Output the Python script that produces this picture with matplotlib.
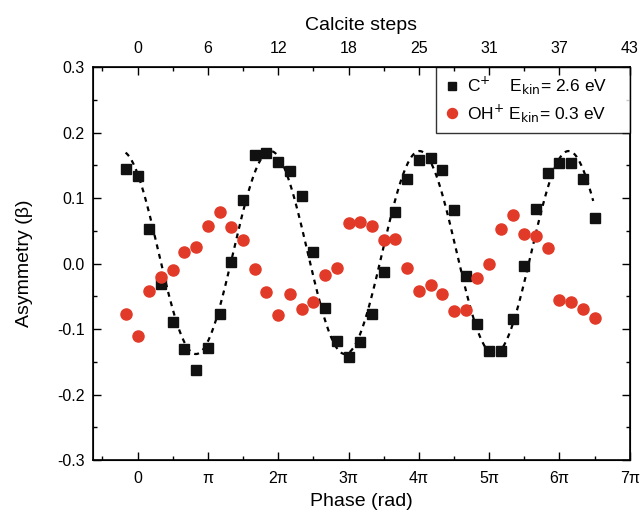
import numpy as np
import matplotlib
matplotlib.use("Agg")
import matplotlib.pyplot as plt
from matplotlib.ticker import MultipleLocator, FixedLocator

plt.rcParams['font.family'] = ['Liberation Sans', 'DejaVu Sans']

# Data: phase in units of pi/6 (one calcite step per point)
steps = [-1, 0, 1, 2, 3, 4, 5, 6, 7, 8, 9, 10, 11, 12, 13, 14, 15, 16, 17, 18, 19,
         20, 21, 22, 23, 24, 25, 26, 27, 28, 29, 30, 31, 32, 33, 34, 35, 36, 37, 38, 39]
c_plus = [0.145, 0.134, 0.053, -0.031, -0.089, -0.131, -0.163, -0.129, -0.077, 0.002,
          0.097, 0.166, 0.169, 0.156, 0.142, 0.104, 0.018, -0.068, -0.118, -0.143,
          -0.120, -0.077, -0.013, 0.079, 0.130, 0.159, 0.161, 0.143, 0.082, -0.019,
          -0.092, -0.133, -0.133, -0.085, -0.004, 0.084, 0.139, 0.154, 0.154, 0.130, 0.070]
oh_plus = [-0.077, -0.110, -0.042, -0.020, -0.010, 0.018, 0.025, 0.058, 0.079, 0.056,
           0.036, -0.008, -0.043, -0.078, -0.047, -0.069, -0.058, -0.018, -0.006, 0.062,
           0.063, 0.058, 0.036, 0.038, -0.007, -0.041, -0.032, -0.047, -0.072, -0.071,
           -0.022, 0.000, 0.053, 0.075, 0.045, 0.042, 0.024, -0.055, -0.058, -0.069, -0.083]

# Sinusoidal fit parameters for C+ (x in rad)
fit_offset = 0.017
fit_amp = 0.155
fit_period_pi = 2.12      # period in units of pi
fit_max_pi = 1.89         # position of a maximum in units of pi
fit_range_pi = (-0.17, 6.48)

xtick_labels = ['0', 'π', '2π', '3π', '4π', '5π', '6π', '7π']
top_labels = ['0', '6', '12', '18', '25', '31', '37', '43']

phase = np.array(steps) * np.pi / 6

fig = plt.figure(figsize=(6.40, 5.17), dpi=100)
ax = fig.add_axes([0.145, 0.110, 0.839, 0.760])

xf = np.linspace(fit_range_pi[0] * np.pi, fit_range_pi[1] * np.pi, 400)
yf = fit_offset + fit_amp * np.cos(2 * np.pi * (xf - fit_max_pi * np.pi) / (fit_period_pi * np.pi))
ax.plot(xf, yf, color='black', linestyle=(0, (2.2, 2.2)), linewidth=1.6, zorder=3)

ax.plot(phase, c_plus, linestyle='none', marker='s', markersize=6.6,
        color='#111111', label='C$^{+}$    E$_{\\rm kin}$= 2.6 eV    ', zorder=4)
ax.plot(phase, oh_plus, linestyle='none', marker='o', markersize=8,
        color='#e23a28', markeredgecolor='#e23a28', label='OH$^{+}$ E$_{\\rm kin}$= 0.3 eV    ', zorder=4)

xlim = (-2.0, 7 * np.pi)
ax.set_xlim(*xlim)
ax.set_ylim(-0.3, 0.3)
ax.set_xticks([k * np.pi for k in range(8)])
ax.set_xticklabels(xtick_labels)
ax.xaxis.set_minor_locator(FixedLocator([(k + 0.5) * np.pi for k in range(-1, 7)]))
ax.yaxis.set_major_locator(MultipleLocator(0.1))
ax.yaxis.set_minor_locator(MultipleLocator(0.05))
ax.set_yticklabels([f'{v:.1f}' for v in ax.get_yticks()])
ax.tick_params(which='both', direction='in', top=False, right=True, labelsize=11.5, width=1)
ax.tick_params(which='major', length=6)
ax.tick_params(which='minor', length=3)
ax.tick_params(axis='x', pad=8)
ax.tick_params(axis='y', pad=6)
for s in ax.spines.values():
    s.set_linewidth(1.2)

ax.set_xlabel('Phase (rad)', fontsize=14, labelpad=5)
ax.set_ylabel('Asymmetry (β)', fontsize=14, labelpad=17)

ax2 = ax.twiny()
ax2.set_xlim(*xlim)
ax2.set_xticks([k * np.pi for k in range(8)])
ax2.set_xticklabels(top_labels)
ax2.xaxis.set_minor_locator(FixedLocator([(k + 0.5) * np.pi for k in range(-1, 7)]))
ax2.tick_params(which='both', direction='in', labelsize=11.5, width=1, pad=8)
ax2.tick_params(which='major', length=6)
ax2.tick_params(which='minor', length=3)
ax2.set_xlabel('Calcite steps', fontsize=14, labelpad=8)

leg = ax.legend(loc='upper right', borderaxespad=0, fontsize=12.5, frameon=True,
                fancybox=False, edgecolor='black', handlelength=0.9, handletextpad=0.45,
                borderpad=0.45, labelspacing=0.3, markerscale=0.9)
leg.get_frame().set_linewidth(1.0)

fig.savefig('out.png', dpi=100)
